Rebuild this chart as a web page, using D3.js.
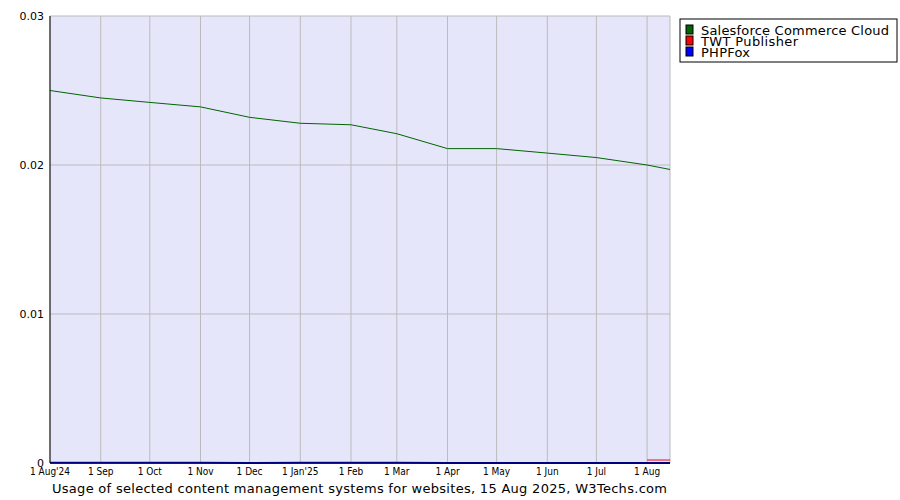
<!DOCTYPE html>
<html><head><meta charset="utf-8">
<script src="https://cdn.jsdelivr.net/npm/d3@7"></script>
<style>body{margin:0;background:#fff}</style></head>
<body><svg id="c" width="900" height="500"></svg>
<script>
const dates = ["2024-08-01","2024-09-01","2024-10-01","2024-11-01","2024-12-01","2025-01-01","2025-02-01","2025-03-01","2025-04-01","2025-05-01","2025-06-01","2025-07-01","2025-08-01","2025-08-15"];
const tickLabels = ["1 Aug'24","1 Sep","1 Oct","1 Nov","1 Dec","1 Jan'25","1 Feb","1 Mar","1 Apr","1 May","1 Jun","1 Jul","1 Aug"];
const salesforce = [0.0250,0.0245,0.0242,0.0239,0.0232,0.0228,0.0227,0.0221,0.0211,0.0211,0.0208,0.0205,0.0200,0.0197];
const twt = [null,null,null,null,null,null,null,null,null,null,null,null,0.0002,0.0002];
const phpfox = [0.00002,0.00002,0.00002,0.00002,0,0.00002,0.00002,0.00002,0,0,0,0,0,0];
const seriesNames = ["Salesforce Commerce Cloud","TWT Publisher","PHPFox"];
const colors = ["#006400","#ff0000","#0000ff"];
const yTicks = [0,0.01,0.02,0.03];

const parse = d3.timeParse("%Y-%m-%d");
const D = dates.map(parse);
const svg = d3.select("#c");
const L=50,R=670,T=16,B=463;
const x = d3.scaleTime().domain([D[0],D[D.length-1]]).range([L,R]);
const y = d3.scaleLinear().domain([0,0.03]).range([B,T]);
svg.append("rect").attr("x",L).attr("y",T).attr("width",R-L).attr("height",B-T).attr("fill","#e6e6fa");
const g=svg.append("g");
D.slice(0,13).forEach(d=>g.append("line").attr("x1",x(d)).attr("x2",x(d)).attr("y1",T).attr("y2",B).attr("stroke","#bbb"));
yTicks.forEach(v=>g.append("line").attr("x1",L).attr("x2",R).attr("y1",y(v)).attr("y2",y(v)).attr("stroke","#bbb"));
g.append("line").attr("x1",R).attr("x2",R).attr("y1",T).attr("y2",B).attr("stroke","#bbb");
const line=d3.line().defined(v=>v[1]!=null).x(v=>x(v[0])).y(v=>y(v[1]));
[salesforce,twt,phpfox].forEach((s,i)=>{
  svg.append("path").attr("d",line(D.map((d,j)=>[d,s[j]]))).attr("fill","none").attr("stroke",colors[i]).attr("stroke-width",i==2?2:1);
});
svg.append("line").attr("x1",L).attr("x2",L).attr("y1",T).attr("y2",B).attr("stroke","#000");
svg.append("line").attr("x1",L).attr("x2",R).attr("y1",B).attr("y2",B).attr("stroke","#000");
const f="DejaVu Sans";
yTicks.forEach(v=>svg.append("text").attr("x",L-6).attr("y",y(v)+4).attr("text-anchor","end").attr("font-family",f).attr("font-size",11).text(v===0?"0":d3.format(".2f")(v)));
tickLabels.forEach((t,i)=>svg.append("text").attr("x",x(D[i])).attr("y",475).attr("text-anchor","middle").attr("font-family","DejaVu Sans Condensed, DejaVu Sans").attr("font-size",10).text(t));
svg.append("text").attr("x",52).attr("y",493).attr("font-family",f).attr("font-size",13).attr("textLength",615).attr("lengthAdjust","spacing").text("Usage of selected content management systems for websites, 15 Aug 2025, W3Techs.com");
svg.append("rect").attr("x",680).attr("y",19).attr("width",217).attr("height",43).attr("fill","#fff").attr("stroke","#000");
const tl=[188,97,49];
seriesNames.forEach((n,i)=>{
  svg.append("rect").attr("x",686).attr("y",25+i*11).attr("width",7).attr("height",9).attr("fill",colors[i]).attr("stroke","#000");
  svg.append("text").attr("x",701).attr("y",35+i*11).attr("font-family",f).attr("font-size",13).attr("textLength",tl[i]).attr("lengthAdjust","spacing").text(n);
});
</script></body></html>
